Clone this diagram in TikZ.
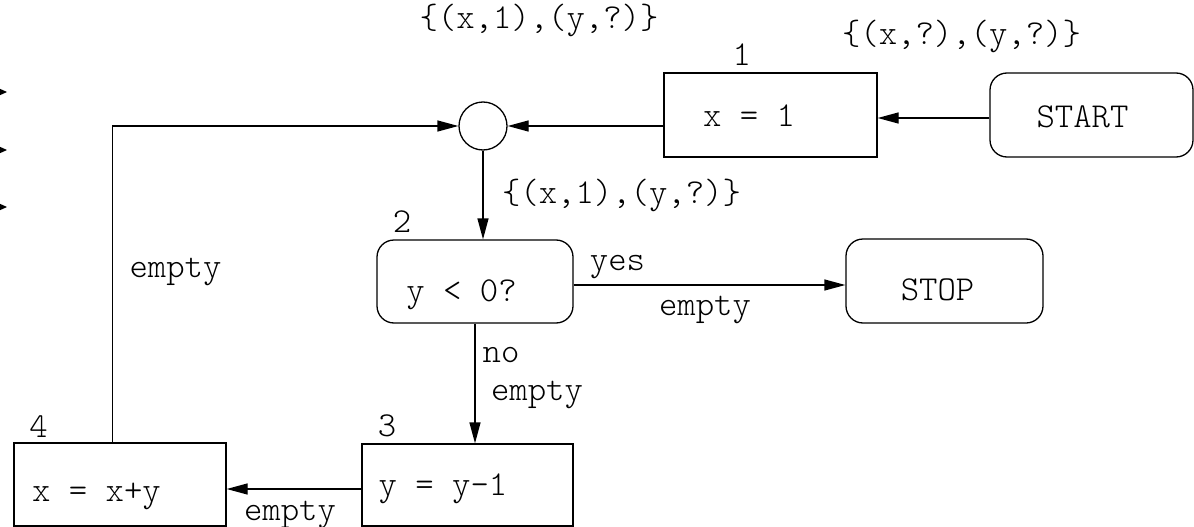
\documentclass[tikz,border=0pt]{standalone}
\usepackage{fontspec}
\usetikzlibrary{arrows.meta}
\begin{document}
\begin{tikzpicture}[x=1pt,y=-1pt,
  every node/.style={font=\ttfamily\fontseries{l}\fontsize{35}{35}\selectfont, inner sep=0pt},
  lbl/.style={anchor=base},
  sq/.style={draw, line width=1.3pt, rectangle, minimum width=#1},
  rnd/.style={draw, line width=1.3pt, rectangle, rounded corners=17pt, minimum width=#1},
  arr/.style={line width=1.3pt, -{Triangle[length=21pt,width=11pt]}},
  edgetip/.style={line width=1.3pt, -{Stealth[length=10pt,width=9pt]}}]
\useasboundingbox (0,0) rectangle (1194,527);
\path[clip] (0,0) rectangle (1194,527);

% boxes
\node[sq=213pt, minimum height=84pt] (n1) at (770.5,115) {};
\node[rnd=203pt, minimum height=84pt] (start) at (1091.5,115) {};
\node[rnd=196pt, minimum height=83pt] (b2) at (475,281.5) {};
\node[rnd=197pt, minimum height=84pt] (stop) at (944.5,281) {};
\node[sq=211pt, minimum height=82pt] (b3) at (467.5,485) {};
\node[sq=212pt, minimum height=83pt] (b4) at (120,484.5) {};
\node[draw, line width=1.3pt, circle, minimum size=48pt] (circ) at (483,126) {};

% texts
\node[lbl] (t1) at (749,126) {x = 1};
\node[lbl] (tstart) at (1082.5,127) {START};
\node[lbl] (t2) at (461.5,301.5) {y < 0?};
\node[lbl] (tstop) at (937.5,300) {STOP};
\node[lbl] (t3) at (443,495.5) {y = y-1};
\node[lbl] (t4) at (96.5,501) {x = x+y};

\node[lbl] (l1) at (741.7,66) {1};
\node[lbl] (l2) at (402,232) {2};
\node[lbl] (l3) at (387,436) {3};
\node[lbl] (l4) at (38.5,437) {4};

\node[lbl] (s0) at (539,29) {\{(x,1),(y,?)\}};
\node[lbl] (s1) at (961.5,45) {\{(x,?),(y,?)\}};
\node[lbl] (s2) at (621.5,203) {\{(x,1),(y,?)\}};
\node[lbl] (yes) at (617.5,270) {yes};
\node[lbl] (e1) at (705,315) {empty};
\node[lbl] (no) at (501,362) {no};
\node[lbl] (e2) at (537,400) {empty};
\node[lbl] (e3) at (290,520) {empty};
\node[lbl] (e4) at (175.5,277) {empty};

% helper coordinates
\coordinate (ys) at (0,118);
\coordinate (yb) at (0,285);
\coordinate (xn) at (475,0);
\coordinate (yl) at (0,489);
\coordinate (xl) at (112.7,0);

% connectors
\draw[arr] (start.west |- ys) -- (n1.east |- ys);
\draw[arr] (n1.west |- circ) -- (circ.east);
\draw[arr] (circ.south) -- (circ.south |- b2.north);
\draw[arr] (b2.east |- yb) -- (stop.west |- yb);
\draw[arr] (xn |- b2.south) -- (xn |- b3.north);
\draw[arr] (b3.west |- yl) -- (b4.east |- yl);
\draw[arr] (xl |- b4.north) -- (xl |- circ) -- (circ.west);

% cut-off arrows at the left edge
\coordinate (a1s) at (-20,92);  \coordinate (a1e) at (7,92);
\coordinate (a2s) at (-20,150); \coordinate (a2e) at (7,150);
\coordinate (a3s) at (-20,207); \coordinate (a3e) at (7,207);
\draw[edgetip] (a1s) -- (a1e);
\draw[edgetip] (a2s) -- (a2e);
\draw[edgetip] (a3s) -- (a3e);
\end{tikzpicture}
\end{document}
